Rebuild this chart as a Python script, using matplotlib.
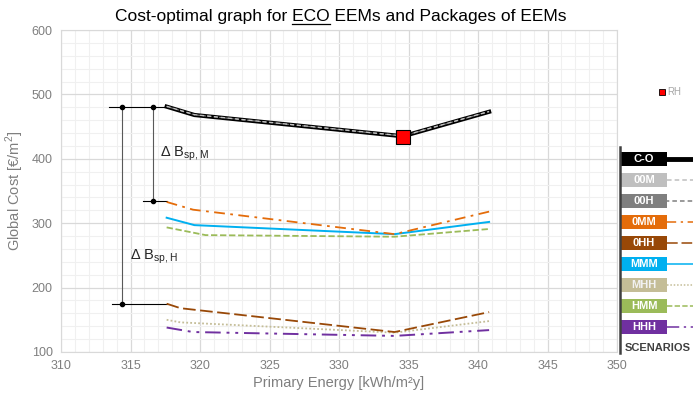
import matplotlib.pyplot as plt
import matplotlib.patches as mpatches
from matplotlib.ticker import MultipleLocator

plt.rcParams['font.family'] = ['Liberation Sans', 'DejaVu Sans']
plt.rcParams['mathtext.fontset'] = 'custom'
plt.rcParams['mathtext.rm'] = 'Liberation Sans'

# scenario data (primary energy, global cost)
scenarios = ['C-O', '00M', '00H', '0MM', '0HH', 'MMM', 'MHH', 'HMM', 'HHH']
pe = {
    'C-O': [317.6, 319.6, 334.6, 340.8],
    '00M': [317.6, 319.6, 334.6, 340.8],
    '00H': [317.6, 319.6, 334.6, 340.8],
    '0MM': [317.6, 319.5, 334.0, 340.8],
    '0HH': [317.6, 318.6, 334.0, 340.8],
    'MMM': [317.6, 319.6, 334.0, 340.8],
    'MHH': [317.6, 318.6, 334.0, 340.8],
    'HMM': [317.6, 320.4, 334.0, 340.8],
    'HHH': [317.6, 319.5, 334.0, 340.8],
}
gc = {
    'C-O': [481, 468, 435, 473],
    '00M': [481.5, 468.5, 435.5, 473.5],
    '00H': [481.3, 468.3, 435.3, 473.3],
    '0MM': [333, 321, 283, 318],
    '0HH': [175, 168, 131, 162],
    'MMM': [308.5, 297, 283, 302],
    'MHH': [150, 146, 130, 148],
    'HMM': [293.5, 281.5, 279, 291],
    'HHH': [138, 131, 125, 134],
}
rh_pe, rh_gc = 334.6, 434
ref_co, ref_m, ref_h = 481, 335, 175

colors = {
    'C-O': '#000000', '00M': '#bfbfbf', '00H': '#7f7f7f', '0MM': '#e46c0a',
    '0HH': '#984807', 'MMM': '#00b0f0', 'MHH': '#c4bd97', 'HMM': '#9bbb59',
    'HHH': '#7030a0',
}
styles = {
    'C-O': dict(ls='-', lw=3.0),
    '00M': dict(ls=(0, (3, 2)), lw=1.0),
    '00H': dict(ls=(1.5, (3, 2)), lw=0.8),
    '0MM': dict(ls=(0, (6, 3, 1.5, 3)), lw=1.3),
    '0HH': dict(ls=(0, (7, 2.5)), lw=1.3),
    'MMM': dict(ls='-', lw=1.4),
    'MHH': dict(ls=(0, (1, 1.2)), lw=1.3),
    'HMM': dict(ls=(0, (3.5, 1.5)), lw=1.3),
    'HHH': dict(ls=(0, (8, 3, 1.5, 3, 1.5, 3)), lw=1.4),
}
text_col = {'C-O': 'white', '00M': 'white', '00H': 'white', '0MM': 'white',
            '0HH': 'white', 'MMM': 'white', 'MHH': '#f2f2f2', 'HMM': 'white',
            'HHH': 'white'}

fig = plt.figure(figsize=(6.93, 3.99), dpi=100)
ax = fig.add_axes([61 / 693, 47 / 399, 556 / 693, 322 / 399])

ax.set_xlim(310, 350)
ax.set_ylim(100, 600)
ax.xaxis.set_major_locator(MultipleLocator(5))
ax.xaxis.set_minor_locator(MultipleLocator(1))
ax.yaxis.set_major_locator(MultipleLocator(100))
ax.yaxis.set_minor_locator(MultipleLocator(20))
ax.grid(which='major', color='#d9d9d9', lw=0.9)
ax.grid(which='minor', color='#f0f0f0', lw=0.8)
ax.set_axisbelow(True)
for s in ax.spines.values():
    s.set_color('#d9d9d9')
ax.tick_params(which='both', length=0, labelsize=9, colors='#7f7f7f', pad=6)
ax.set_xlabel('Primary Energy [kWh/m²y]', fontsize=10.5, color='#7f7f7f', labelpad=3)
ax.set_ylabel('Global Cost [€/m$^2$]', fontsize=10.5, color='#7f7f7f', labelpad=4)

for name in scenarios[::-1]:
    ax.plot(pe[name], gc[name], color=colors[name], dash_capstyle='butt',
            zorder=3 if name != 'C-O' else 2, **styles[name])

ax.plot([rh_pe], [rh_gc], marker='s', ms=10.5, mfc='#ff0000', mec='#000000',
        mew=0.8, ls='none', zorder=5)

# delta annotations
ax.plot([313.45, 317.6], [ref_co, ref_co], color='black', lw=0.8)
ax.plot([313.7, 317.6], [ref_h, ref_h], color='black', lw=0.8)
ax.plot([315.9, 317.6], [ref_m, ref_m], color='black', lw=0.8)
ax.plot([314.4, 314.4], [ref_h, ref_co], color='#595959', lw=0.8, marker='o', ms=3,
        mfc='black', mec='black')
ax.plot([316.6, 316.6], [ref_m, ref_co], color='#595959', lw=0.8, marker='o', ms=3,
        mfc='black', mec='black')
ax.text(317.1, 408, r'Δ B$_{\rm sp,M}$', fontsize=10.5, color='#262626', va='center')
ax.text(315.0, 248, r'Δ B$_{\rm sp,H}$', fontsize=10.5, color='#262626', va='center')

# title with underlined ECO
title_y = 1 - 17 / 399
pre = 'Cost-optimal graph for '
full = pre + 'ECO EEMs and Packages of EEMs'
t = fig.text(0.492, title_y, full, ha='center', va='center', fontsize=12.5, color='black')
fig.canvas.draw()
r = fig.canvas.get_renderer()
bb = t.get_window_extent(r)
tp = fig.text(0, 0, pre, fontsize=12.5)
te = fig.text(0, 0, 'ECO', fontsize=12.5)
wp = tp.get_window_extent(r).width
we = te.get_window_extent(r).width
tp.remove()
te.remove()
fw, fh = fig.bbox.width, fig.bbox.height
x0 = (bb.x0 + wp) / fw
x1 = (bb.x0 + wp + we) / fw
yu = (bb.y0 + 1) / fh
fig.add_artist(plt.Line2D([x0, x1], [yu, yu], color='black', lw=0.9))

# legend panel (pixel coords)
lg = fig.add_axes([0, 0, 1, 1])
lg.set_xlim(0, 693)
lg.set_ylim(399, 0)
lg.axis('off')
lg.plot([620, 620], [147, 353], color='#404040', lw=1.8)
for i, name in enumerate(scenarios):
    yc = 159 + i * 21
    lg.add_patch(mpatches.Rectangle((621, yc - 7), 46, 14, color=colors[name], lw=0))
    lg.text(644, yc, name, ha='center', va='center', fontsize=8, fontweight='bold',
            color=text_col[name])
    st = dict(styles[name])
    if name == 'C-O':
        st['lw'] = 3.5
    else:
        st['lw'] = 1.1
    lg.plot([667, 693], [yc, yc], color=colors[name], **st)
lg.text(625, 348, 'SCENARIOS', ha='left', va='center', fontsize=8, fontweight='bold',
        color='#404040')
lg.plot([662], [92], marker='s', ms=5, mfc='#ff0000', mec='black', mew=0.6)
lg.text(667, 92, 'RH', ha='left', va='center', fontsize=7, color='#a6a6a6')

fig.savefig('out.png', dpi=100)
